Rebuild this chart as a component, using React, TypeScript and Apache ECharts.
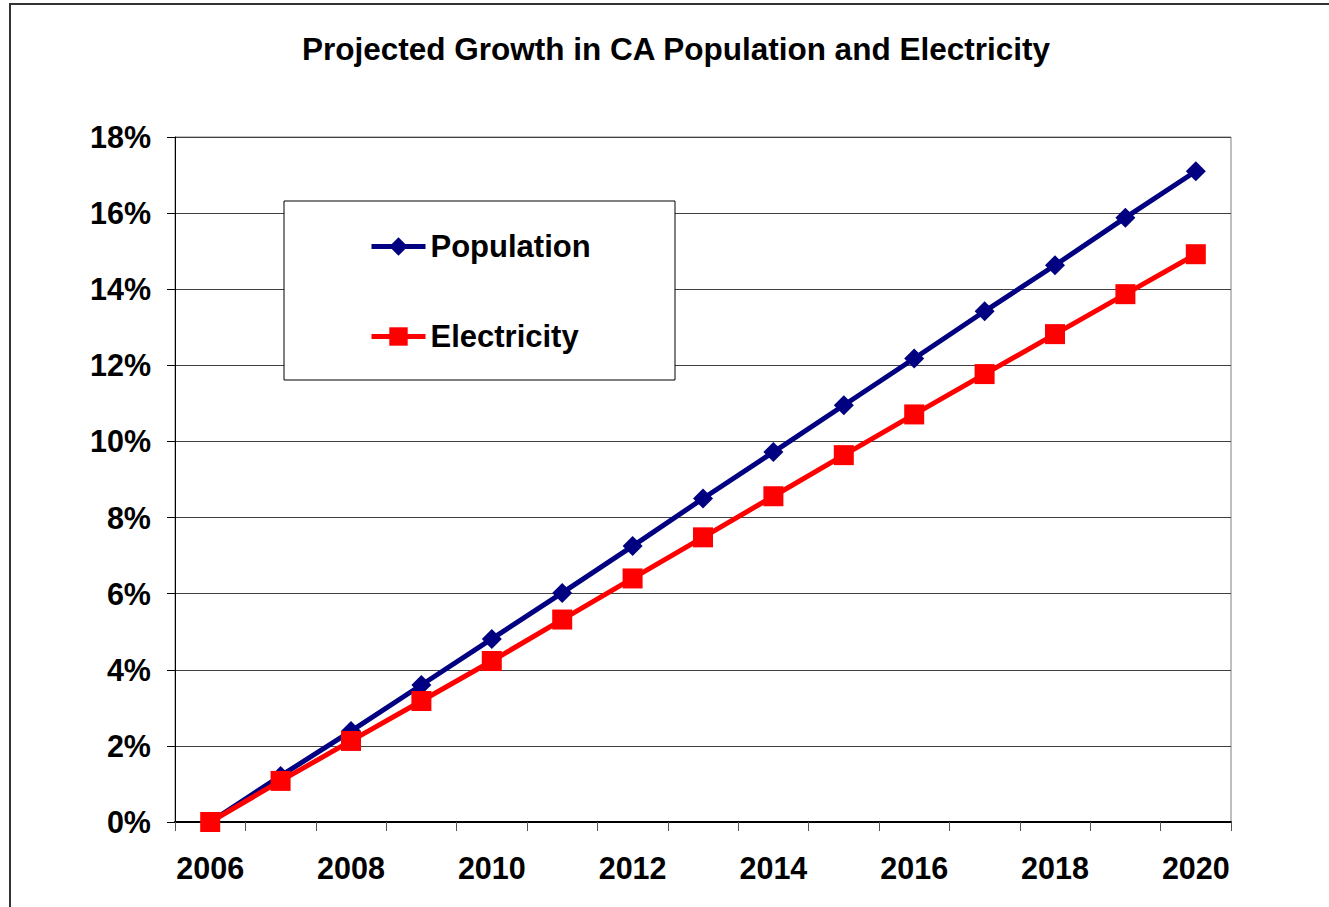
import React, { useEffect, useRef } from "react";
import * as echarts from "echarts";

const years = ["2006","2007","2008","2009","2010","2011","2012","2013","2014","2015","2016","2017","2018","2019","2020"];
const population = [0, 1.21, 2.39, 3.6, 4.81, 6.02, 7.25, 8.5, 9.72, 10.95, 12.18, 13.42, 14.63, 15.88, 17.1];
const electricity = [0, 1.08, 2.13, 3.18, 4.23, 5.32, 6.4, 7.48, 8.56, 9.64, 10.71, 11.77, 12.82, 13.87, 14.92];
const yTicks = { min: 0, max: 18, interval: 2 };
const titleText = "Projected Growth in CA Population and Electricity";

const FONT = "'Liberation Sans', Arial, sans-serif";

export default function App() {
  const ref = useRef<HTMLDivElement>(null);
  useEffect(() => {
    if (!ref.current) return;
    const chart = echarts.init(ref.current, null, { renderer: "svg" });
    chart.setOption({
      animation: false,
      backgroundColor: "#ffffff",
      textStyle: { fontFamily: FONT },
      grid: {
        left: 175,
        right: 98,
        top: 137,
        bottom: 85,
        show: true,
        borderColor: "#808080",
        borderWidth: 1,
        containLabel: false,
      },
      graphic: [
        {
          type: "rect",
          shape: { x: 10, y: 4, width: 1400, height: 1000 },
          style: { fill: "none", stroke: "#333333", lineWidth: 2 },
          silent: true,
          z: 0,
        },
        {
          type: "text",
          x: 676,
          y: 49,
          style: {
            text: titleText,
            fontSize: 31.5,
            fontWeight: "bold",
            fontFamily: FONT,
            fill: "#000000",
            align: "center",
            verticalAlign: "middle",
          },
          z: 10,
        },
        {
          type: "rect",
          shape: { x: 284, y: 201, width: 391, height: 179 },
          style: { fill: "#ffffff", stroke: "#000000", lineWidth: 1 },
          silent: true,
          z: 5,
        },
      ],
      legend: {
        orient: "vertical",
        left: 369,
        top: 231,
        padding: 0,
        itemWidth: 54,
        itemHeight: 23,
        itemGap: 59,
        z: 10,
        lineStyle: { width: 5 },
        textStyle: { fontSize: 31, fontWeight: "bold", color: "#000000", fontFamily: FONT },
        data: ["Population", "Electricity"],
      },
      xAxis: {
        type: "category",
        data: years,
        boundaryGap: true,
        axisLine: { lineStyle: { color: "#000000", width: 2 } },
        axisTick: { show: true, interval: 0, length: 9, lineStyle: { color: "#555555", width: 1 } },
        axisLabel: {
          interval: 1,
          margin: 30,
          fontSize: 30.5,
          fontWeight: "bold",
          color: "#000000",
          fontFamily: FONT,
        },
        splitLine: { show: false },
      },
      yAxis: {
        type: "value",
        min: yTicks.min,
        max: yTicks.max,
        interval: yTicks.interval,
        axisLine: { show: true, lineStyle: { color: "#000000", width: 1 } },
        axisTick: { show: true, length: 8, lineStyle: { color: "#000000", width: 1 } },
        axisLabel: {
          formatter: "{value}%",
          margin: 24,
          fontSize: 30.5,
          fontWeight: "bold",
          color: "#000000",
          fontFamily: FONT,
        },
        splitLine: { show: true, lineStyle: { color: "#404040", width: 1 } },
      },
      series: [
        {
          name: "Population",
          type: "line",
          data: population,
          symbol: "diamond",
          symbolSize: 20,
          showAllSymbol: true,
          lineStyle: { color: "#000080", width: 5 },
          itemStyle: { color: "#000080" },
          z: 3,
        },
        {
          name: "Electricity",
          type: "line",
          data: electricity,
          symbol: "rect",
          symbolSize: 20,
          showAllSymbol: true,
          lineStyle: { color: "#ff0000", width: 5 },
          itemStyle: { color: "#ff0000" },
          z: 4,
        },
      ],
    });
    return () => chart.dispose();
  }, []);
  return (
    <div
      ref={ref}
      style={{ position: "absolute", left: 0, top: 0, width: 1329, height: 907 }}
    />
  );
}
